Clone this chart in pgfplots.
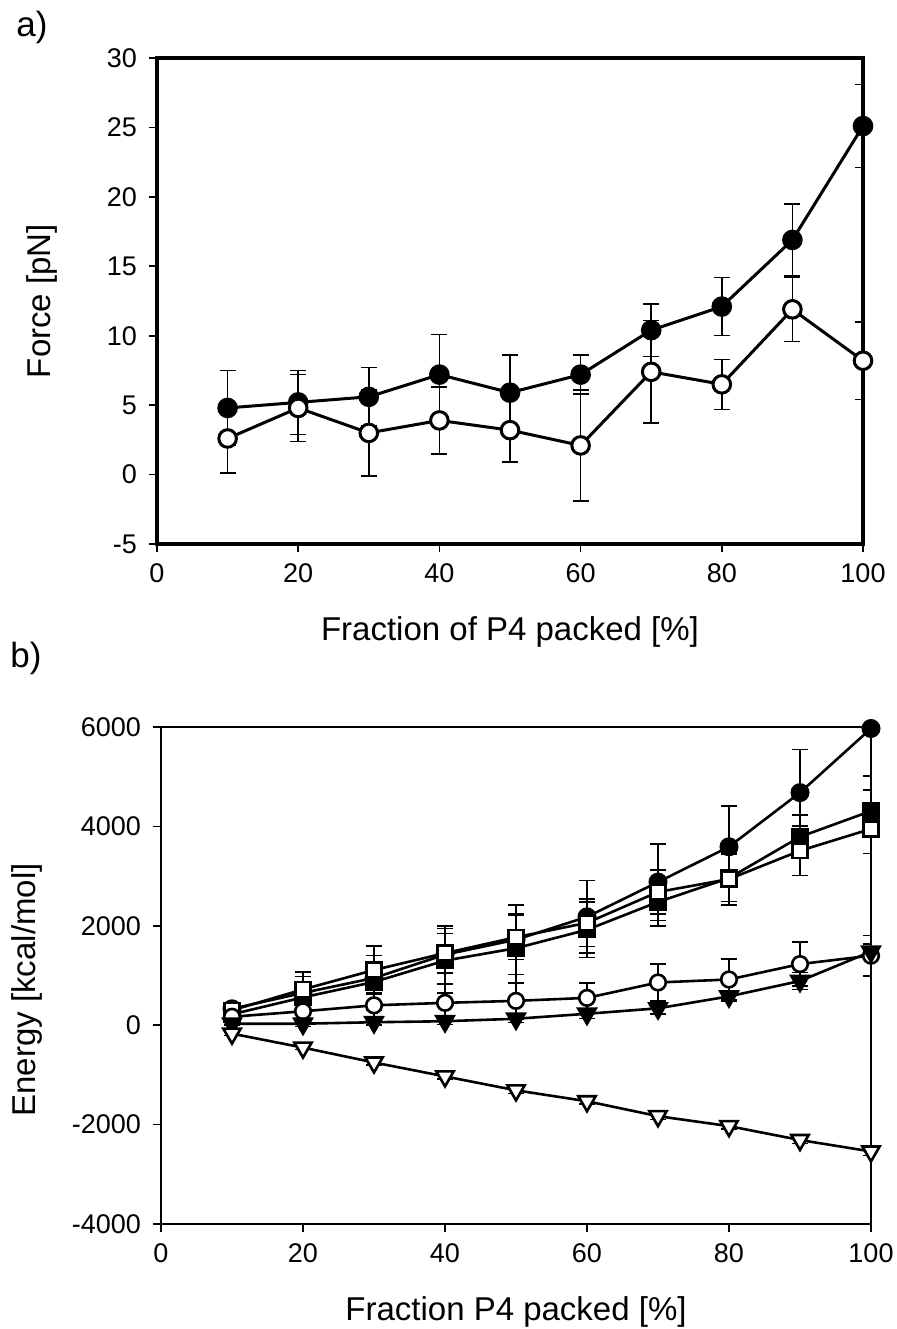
\documentclass[border=0pt]{standalone}
\usepackage{fontspec}
\setmainfont{Liberation Sans}
\usepackage{pgfplots}
\pgfplotsset{compat=1.18}

\pgfplotsset{
  panel/.style={
    scale only axis,
    xmin=0, xmax=100, xtick={0,20,...,100},
    axis line style={line width=1.6pt},
    tick align=outside, tick pos=left,
    major tick length=4pt,
    every tick/.style={black, line width=0.8pt},
    ticklabel style={font=\fontsize{13.5}{16}\selectfont},
    label style={font=\fontsize{16.5}{19}\selectfont},
    xticklabel style={yshift=-2.5pt},
    yticklabel style={xshift=-2.5pt},
    /pgf/number format/assume math mode=true,
    scaled y ticks=false,
    error bars/y dir=both, error bars/y explicit,
    error bars/error bar style={line width=0.75pt},
    error bars/error mark options={rotate=90, mark size=4pt, line width=0.75pt},
  },
  ser/.style={black, line width=1.5pt, mark options={solid, line width=0.9pt}},
}

\begin{document}
\begin{tikzpicture}[x=1pt,y=1pt]
\useasboundingbox (0,0) rectangle (448,-664.5);
\node[font=\fontsize{17.5}{20}\selectfont] at (16,-13.5) {a)};
\node[font=\fontsize{17.5}{20}\selectfont] at (13,-329) {b)};

% panel a
\begin{axis}[panel, at={(78.5pt,-272pt)}, anchor=south west,
  width=353pt, height=243pt,
  ymin=-5, ymax=30, ytick={-5,0,...,30},
  yticklabels={-5,0,5,10,15,20,25,30},
  xlabel={Fraction of P4 packed [\%]}, ylabel={Force [pN]},
  xlabel style={at={(axis description cs:0.5,-0.181)}, anchor=center},
  ylabel style={at={(axis description cs:-0.163,0.5)}, anchor=center},
]
\addplot[ser, mark=*, mark size=4.4pt, mark options={fill=black}] coordinates {
  (10,4.8) +- (0,2.7) (20,5.2) +- (0,2.3) (30,5.6) +- (0,2.1)
  (40,7.2) +- (0,2.9) (50,5.9) +- (0,2.7) (60,7.2) +- (0,1.4)
  (70,10.4) +- (0,1.9) (80,12.1) +- (0,2.1) (90,16.9) +- (0,2.6)
  (100,25.1) +- (0,3.0)
};
\addplot[ser, mark=*, mark size=4.4pt, mark options={fill=white}] coordinates {
  (10,2.6) +- (0,2.5) (20,4.8) +- (0,2.4) (30,3.0) +- (0,3.1)
  (40,3.9) +- (0,2.4) (50,3.2) +- (0,2.3) (60,2.1) +- (0,4.0)
  (70,7.4) +- (0,3.7) (80,6.5) +- (0,1.8) (90,11.9) +- (0,2.3)
  (100,8.2) +- (0,2.8)
};
\end{axis}

% panel b
\begin{axis}[panel, at={(80.5pt,-612pt)}, anchor=south west,
  width=355pt, height=248.5pt,
  axis line style={line width=1.4pt},
  ymin=-4000, ymax=6000, ytick={-4000,-2000,...,6000},
  yticklabels={-4000,-2000,0,2000,4000,6000},
  xlabel={Fraction P4 packed [\%]}, ylabel={Energy [kcal/mol]},
  xlabel style={at={(axis description cs:0.5,-0.177)}, anchor=center},
  ylabel style={at={(axis description cs:-0.189,0.471)}, anchor=center},
]
\addplot[ser, line width=1.3pt, mark=*, mark size=4.1pt, mark options={fill=black}] coordinates {
  (10,330) +- (0,100) (20,650) +- (0,420) (30,950) +- (0,640)
  (40,1420) +- (0,580) (50,1720) +- (0,700) (60,2180) +- (0,730)
  (70,2880) +- (0,770) (80,3590) +- (0,820) (90,4680) +- (0,870)
  (100,5970) +- (0,960)
};
\addplot[ser, line width=1.3pt, mark=square*, mark size=3.7pt, mark options={fill=black}] coordinates {
  (10,220) +- (0,120) (20,560) +- (0,420) (30,870) +- (0,530)
  (40,1300) +- (0,650) (50,1550) +- (0,700) (60,1920) +- (0,560)
  (70,2480) +- (0,480) (80,2960) +- (0,470) (90,3790) +- (0,440)
  (100,4310) +- (0,420)
};
\addplot[ser, line width=1.3pt, mark=square*, mark size=3.7pt, mark options={fill=white}] coordinates {
  (10,300) +- (0,120) (20,720) +- (0,150) (30,1110) +- (0,480)
  (40,1450) +- (0,400) (50,1770) +- (0,450) (60,2060) +- (0,480)
  (70,2680) +- (0,440) (80,2940) +- (0,520) (90,3510) +- (0,500)
  (100,3950) +- (0,500)
};
\addplot[ser, line width=1.3pt, mark=*, mark size=3.9pt, mark options={fill=white}] coordinates {
  (10,170) +- (0,60) (20,280) +- (0,150) (30,400) +- (0,250)
  (40,450) +- (0,380) (50,490) +- (0,370) (60,550) +- (0,300)
  (70,860) +- (0,370) (80,920) +- (0,410) (90,1230) +- (0,440)
  (100,1400) +- (0,410)
};
\addplot[ser, line width=1.3pt, mark=triangle*, mark size=5pt, mark options={fill=black, rotate=180}] coordinates {
  (10,30) +- (0,30) (20,30) +- (0,60) (30,60) +- (0,60)
  (40,80) +- (0,70) (50,130) +- (0,80) (60,230) +- (0,90)
  (70,340) +- (0,110) (80,580) +- (0,100) (90,890) +- (0,170)
  (100,1480) +- (0,150)
};
\addplot[ser, line width=1.3pt, mark=triangle*, mark size=5pt, mark options={fill=white, rotate=180}] coordinates {
  (10,-170) +- (0,40) (20,-450) +- (0,40) (30,-750) +- (0,50)
  (40,-1030) +- (0,50) (50,-1310) +- (0,60) (60,-1530) +- (0,60)
  (70,-1830) +- (0,70) (80,-2030) +- (0,60) (90,-2310) +- (0,70)
  (100,-2540) +- (0,80)
};
\end{axis}
\end{tikzpicture}
\end{document}
